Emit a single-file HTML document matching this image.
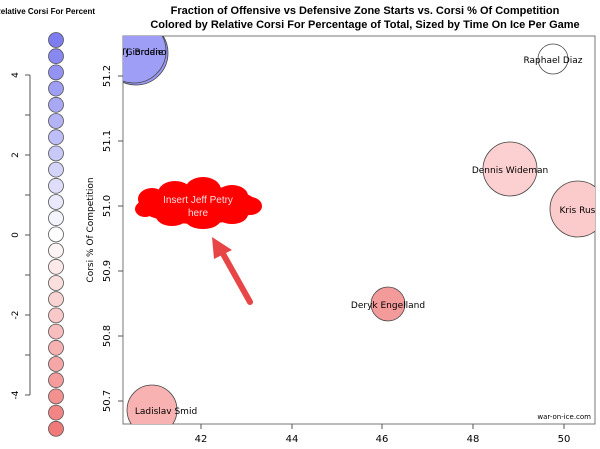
<!DOCTYPE html>
<html><head><meta charset="utf-8"><style>body{margin:0;background:#fff}svg{display:block}text{font-family:"DejaVu Sans","Liberation Sans",sans-serif}.t{font-family:"Liberation Sans",sans-serif}</style></head><body>
<svg width="600" height="449" viewBox="0 0 600 449">
<defs><clipPath id="pc"><rect x="123" y="36" width="472" height="388"/></clipPath></defs>
<text class="t" x="45" y="14" font-size="8" font-weight="bold" text-anchor="middle">Relative Corsi For Percent</text>
<text class="t" x="365" y="14" font-size="11" font-weight="bold" text-anchor="middle">Fraction of Offensive vs Defensive Zone Starts vs. Corsi % Of Competition</text>
<text class="t" x="365" y="28" font-size="11" font-weight="bold" text-anchor="middle">Colored by Relative Corsi For Percentage of Total, Sized by Time On Ice Per Game</text>
<g stroke="#555" fill="none" stroke-width="1"><path d="M30 75V395M25 75H30M25 115H30M25 155H30M25 195H30M25 235H30M25 275H30M25 315H30M25 355H30M25 395H30"/></g>
<g font-size="9" text-anchor="middle">
<text transform="translate(18,75) rotate(-90)">4</text>
<text transform="translate(18,155) rotate(-90)">2</text>
<text transform="translate(18,235) rotate(-90)">0</text>
<text transform="translate(18,315) rotate(-90)">-2</text>
<text transform="translate(18,395) rotate(-90)">-4</text>
</g>
<g stroke="#555" stroke-width="0.8">
<circle cx="56" cy="40" r="7.5" fill="rgb(125,125,240)"/>
<circle cx="56" cy="56.2" r="7.5" fill="rgb(136,136,241)"/>
<circle cx="56" cy="72.4" r="7.5" fill="rgb(147,147,243)"/>
<circle cx="56" cy="88.6" r="7.5" fill="rgb(158,158,244)"/>
<circle cx="56" cy="104.8" r="7.5" fill="rgb(168,168,245)"/>
<circle cx="56" cy="121" r="7.5" fill="rgb(179,179,246)"/>
<circle cx="56" cy="137.2" r="7.5" fill="rgb(190,190,248)"/>
<circle cx="56" cy="153.4" r="7.5" fill="rgb(201,201,249)"/>
<circle cx="56" cy="169.6" r="7.5" fill="rgb(212,212,250)"/>
<circle cx="56" cy="185.8" r="7.5" fill="rgb(222,222,251)"/>
<circle cx="56" cy="202" r="7.5" fill="rgb(233,233,253)"/>
<circle cx="56" cy="218.2" r="7.5" fill="rgb(244,244,254)"/>
<circle cx="56" cy="234.4" r="7.5" fill="rgb(255,255,255)"/>
<circle cx="56" cy="250.6" r="7.5" fill="rgb(254,244,244)"/>
<circle cx="56" cy="266.8" r="7.5" fill="rgb(253,233,233)"/>
<circle cx="56" cy="283" r="7.5" fill="rgb(251,222,222)"/>
<circle cx="56" cy="299.2" r="7.5" fill="rgb(250,211,211)"/>
<circle cx="56" cy="315.4" r="7.5" fill="rgb(249,200,200)"/>
<circle cx="56" cy="331.6" r="7.5" fill="rgb(248,189,189)"/>
<circle cx="56" cy="347.8" r="7.5" fill="rgb(246,177,177)"/>
<circle cx="56" cy="364" r="7.5" fill="rgb(245,166,166)"/>
<circle cx="56" cy="380.2" r="7.5" fill="rgb(244,155,155)"/>
<circle cx="56" cy="396.4" r="7.5" fill="rgb(243,144,144)"/>
<circle cx="56" cy="412.6" r="7.5" fill="rgb(241,133,133)"/>
<circle cx="56" cy="428.8" r="7.5" fill="rgb(240,122,122)"/>
</g>
<rect x="123" y="36" width="472" height="388" fill="none" stroke="#777"/>
<g stroke="#555" fill="none"><path d="M201 424v5M292 424v5M382 424v5M473 424v5M564 424v5M118 76h5M118 141h5M118 206h5M118 271h5M118 336h5M118 401h5"/></g>
<g font-size="10" text-anchor="middle">
<text x="201" y="442">42</text><text x="292" y="442">44</text><text x="382" y="442">46</text><text x="473" y="442">48</text><text x="564" y="442">50</text>
<text transform="translate(110,76) rotate(-90)">51.2</text>
<text transform="translate(110,141) rotate(-90)">51.1</text>
<text transform="translate(110,206) rotate(-90)">51.0</text>
<text transform="translate(110,271) rotate(-90)">50.9</text>
<text transform="translate(110,336) rotate(-90)">50.8</text>
<text transform="translate(110,401) rotate(-90)">50.7</text>
<text transform="translate(93,230) rotate(-90)" font-size="9">Corsi % Of Competition</text>
</g>
<g clip-path="url(#pc)" stroke="#444" stroke-width="0.8">
<circle cx="136" cy="53" r="32" fill="#9a9af5"/>
<circle cx="134" cy="51" r="32" fill="#9e9ef6"/>
<circle cx="553" cy="59" r="15" fill="#fff"/>
<circle cx="510" cy="169" r="27" fill="#fcd0d0"/>
<circle cx="578" cy="209" r="28" fill="#fbcaca"/>
<circle cx="388" cy="304" r="17" fill="#f39a9a"/>
<circle cx="152" cy="410" r="25" fill="#f9b2b2"/>
</g>
<g clip-path="url(#pc)" font-size="9" text-anchor="middle" fill="#000">
<text x="146" y="55">Giordano</text><text x="142" y="55">TJ. Brodie</text>
<text x="553" y="63">Raphael Diaz</text>
<text x="510" y="173">Dennis Wideman</text>
<text x="585" y="213">Kris Russell</text>
<text x="388" y="308">Deryk Engelland</text>
<text x="166" y="414">Ladislav Smid</text>
</g>
<text x="591" y="419" font-size="7" text-anchor="end">war-on-ice.com</text>
<g fill="#f00">
<ellipse cx="198" cy="205" rx="60" ry="19"/>
<ellipse cx="152" cy="199" rx="14" ry="11"/><ellipse cx="175" cy="193" rx="17" ry="12"/><ellipse cx="203" cy="190" rx="18" ry="13"/><ellipse cx="232" cy="196" rx="16" ry="11"/>
<ellipse cx="250" cy="206" rx="12" ry="9"/><ellipse cx="232" cy="214" rx="16" ry="10"/><ellipse cx="203" cy="219" rx="18" ry="10"/><ellipse cx="172" cy="216" rx="16" ry="10"/><ellipse cx="145" cy="209" rx="10" ry="8"/>
</g>
<text class="t" x="198" y="203" font-size="10" fill="#fdd" text-anchor="middle">Insert Jeff Petry</text>
<text class="t" x="198" y="216" font-size="10" fill="#fdd" text-anchor="middle">here</text>
<line x1="250" y1="302" x2="222" y2="252" stroke="#e84646" stroke-width="6" stroke-linecap="round"/>
<polygon points="212,237 232,250 214,259" fill="#e84646"/>
</svg>
</body></html>
